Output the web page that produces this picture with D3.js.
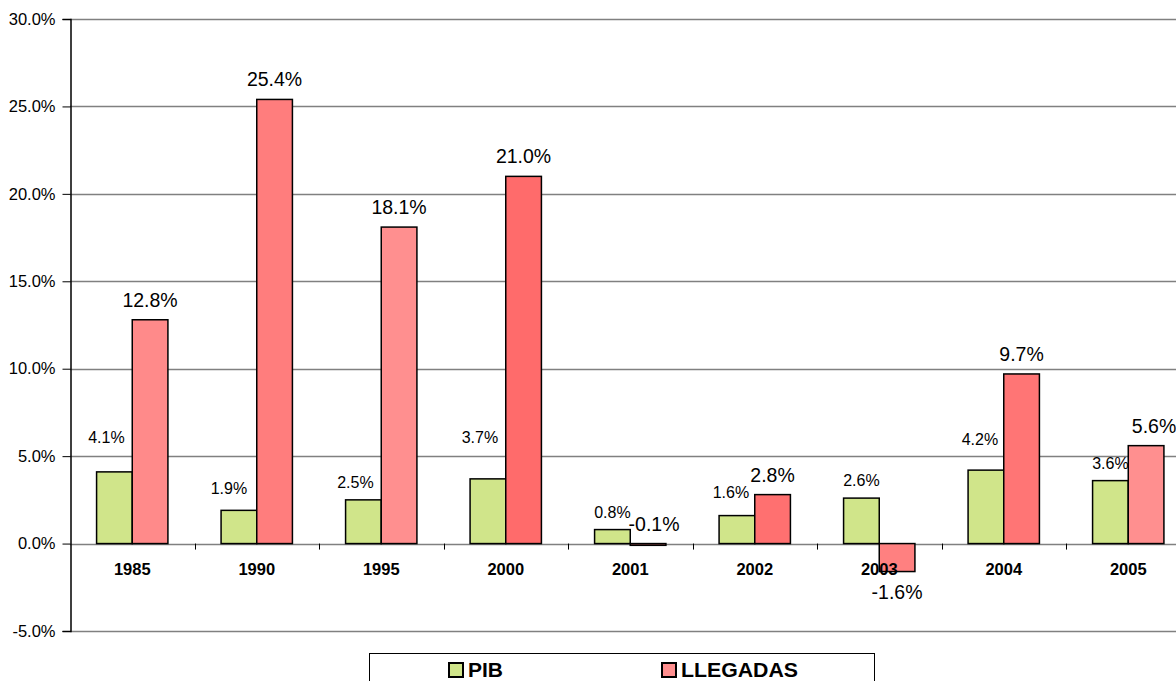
<!DOCTYPE html>
<html><head><meta charset="utf-8">
<script src="https://cdn.jsdelivr.net/npm/d3@7"></script>
<style>body{margin:0;background:#fff;overflow:hidden}svg{display:block;font-family:"Liberation Sans",Arial,sans-serif}</style>
</head><body><svg id="c" width="1176" height="681"></svg>
<script>
const categories = ["1985","1990","1995","2000","2001","2002","2003","2004","2005"];
const pib = [4.1, 1.9, 2.5, 3.7, 0.8, 1.6, 2.6, 4.2, 3.6];
const llegadas = [12.8, 25.4, 18.1, 21.0, -0.1, 2.8, -1.6, 9.7, 5.6];
const seriesNames = ["PIB", "LLEGADAS"];
const yTicks = [-5, 0, 5, 10, 15, 20, 25, 30];

// styling (separate from data)
const pibColor = "#d0e58a";
const llegadasColors = ["#ff8a8a","#ff7d7d","#ff8f8f","#ff6b6b","#ff7a7a","#ff7070","#ff8080","#ff7575","#ff8f8f"];
const pibLabelDx = [-8,-10,-8,-8,0,-6,0,-6,0];
const pibLabelDy = [35,22,18,42,18,24,18,31,18];
const llLabelDx = [0,0,0,0,6,0,0,0,8];

const svg = d3.select("#c");
const x0 = 70, x1 = 1190.5, yTop = 19, yBot = 631;
const y = d3.scaleLinear().domain([-5, 30]).range([yBot, yTop]);
const x = d3.scaleBand().domain(categories).range([x0, x1]).paddingInner(0.427).paddingOuter(0.2135);
const xs = d3.scaleBand().domain(seriesNames).range([0, x.bandwidth()]);

// gridlines
svg.append("g").selectAll("line").data(yTicks).join("line")
  .attr("x1", x0).attr("x2", 1176).attr("y1", d => Math.round(y(d)) + 0.5).attr("y2", d => Math.round(y(d)) + 0.5)
  .attr("stroke", "#808080").attr("stroke-width", 1.3);

// y axis
const yAxis = d3.axisLeft(y).tickValues(yTicks).tickSize(8).tickFormat(d => d.toFixed(1) + "%");
const ga = svg.append("g").attr("transform", `translate(${x0 + 0.5},0)`).call(yAxis);
ga.select(".domain").attr("stroke", "#000").attr("stroke-width", 1.5);
ga.selectAll(".tick line").attr("stroke", "#000");
ga.selectAll(".tick text").attr("font-size", 16.5).attr("fill", "#000").attr("x", -15)
  .attr("font-family", "Liberation Sans, Arial, sans-serif");

// category ticks at boundaries
const step = x.step();
const bounds = categories.map((c, i) => x0 + i * step).slice(1);
svg.append("g").selectAll("line").data(bounds).join("line")
  .attr("x1", d => Math.round(d) + 0.5).attr("x2", d => Math.round(d) + 0.5)
  .attr("y1", y(0)).attr("y2", y(0) + 6).attr("stroke", "#000").attr("stroke-width", 1);

// bars
const g = svg.append("g");
g.selectAll("rect.pib").data(pib).join("rect").attr("class", "pib")
  .attr("x", (d, i) => x(categories[i]) + xs("PIB"))
  .attr("width", xs.bandwidth())
  .attr("y", d => y(Math.max(0, d))).attr("height", d => Math.abs(y(d) - y(0)))
  .attr("fill", pibColor).attr("stroke", "#000").attr("stroke-width", 1.5);
g.selectAll("rect.ll").data(llegadas).join("rect").attr("class", "ll")
  .attr("x", (d, i) => x(categories[i]) + xs("LLEGADAS"))
  .attr("width", xs.bandwidth())
  .attr("y", d => y(Math.max(0, d))).attr("height", d => Math.abs(y(d) - y(0)))
  .attr("fill", (d, i) => llegadasColors[i]).attr("stroke", "#000").attr("stroke-width", 1.5);

// category labels
svg.append("g").selectAll("text").data(categories).join("text")
  .attr("x", d => x(d) + x.bandwidth() / 2).attr("y", y(0) + 31)
  .attr("text-anchor", "middle").attr("font-size", 16.5).attr("font-weight", "bold").text(d => d);

// value labels
const fmt = d => d.toFixed(1) + "%";
svg.append("g").selectAll("text").data(pib).join("text")
  .attr("x", (d, i) => x(categories[i]) + xs("PIB") + xs.bandwidth() / 2 + pibLabelDx[i])
  .attr("y", (d, i) => y(d) - pibLabelDy[i] + 6)
  .attr("text-anchor", "middle").attr("font-size", 16).attr("fill", "#000").text(fmt);
svg.append("g").selectAll("text").data(llegadas).join("text")
  .attr("x", (d, i) => x(categories[i]) + xs("LLEGADAS") + xs.bandwidth() / 2 + llLabelDx[i])
  .attr("y", (d, i) => d < -1 ? y(d) + 27 : y(Math.max(d, 0)) - 13)
  .attr("text-anchor", "middle").attr("font-size", 19.5).attr("fill", "#000").text(fmt);

// legend
const lg = svg.append("g");
lg.append("rect").attr("x", 369.5).attr("y", 653.5).attr("width", 505).attr("height", 40)
  .attr("fill", "#fff").attr("stroke", "#000").attr("stroke-width", 1);
const legendItems = [{name: seriesNames[0], color: pibColor, x: 448}, {name: seriesNames[1], color: "#ff8f8f", x: 661}];
legendItems.forEach(it => {
  lg.append("rect").attr("x", it.x + 1).attr("y", 663).attr("width", 14).attr("height", 14)
    .attr("fill", it.color).attr("stroke", "#000").attr("stroke-width", 2);
  lg.append("text").attr("x", it.x + 20).attr("y", 676.5).attr("font-size", 20).attr("font-weight", "bold")
    .attr("textLength", it.name === "PIB" ? 35 : 117).attr("lengthAdjust", "spacingAndGlyphs").text(it.name);
});
</script></body></html>
